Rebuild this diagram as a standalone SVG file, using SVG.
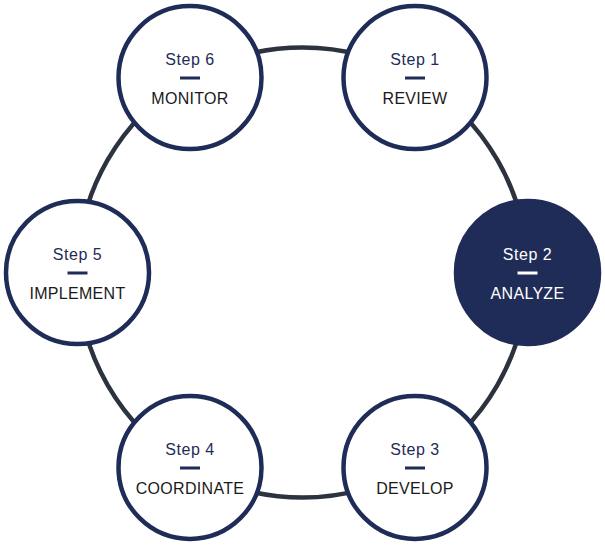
<svg xmlns="http://www.w3.org/2000/svg" width="605" height="545" viewBox="0 0 605 545">
<style>
.conn{fill:none;stroke:#2c333e;stroke-width:4.5}
.node{fill:#fff;stroke:#1f2c57;stroke-width:4.5}
.node.active{fill:#1f2c57}
.step{font-family:"Liberation Sans",Arial,sans-serif;font-size:16px;letter-spacing:0.5px;fill:#1f2c57;text-anchor:middle}
.lbl{font-family:"Liberation Sans",Arial,sans-serif;font-size:16px;letter-spacing:0.3px;fill:#1a1a1a;text-anchor:middle}
.dash{fill:#1f2c57}
.active-t{fill:#fff}
</style>
<rect width="605" height="545" fill="#fff"/>
<g id="connectors">
<path class="conn" d="M190 77.6 A225 225 0 0 1 415 77.6"/>
<path class="conn" d="M415 77.6 A225 225 0 0 1 527.5 272.5"/>
<path class="conn" d="M527.5 272.5 A225 225 0 0 1 415 467.4"/>
<path class="conn" d="M415 467.4 A225 225 0 0 1 190 467.4"/>
<path class="conn" d="M190 467.4 A225 225 0 0 1 77.5 272.5"/>
<path class="conn" d="M77.5 272.5 A225 225 0 0 1 190 77.6"/>
</g>
<g id="step1">
<circle class="node" cx="415" cy="77.6" r="71.5"/>
<text class="step" x="415" y="65">Step 1</text>
<rect class="dash" x="405" y="76.5" width="20" height="3"/>
<text class="lbl" x="415" y="104">REVIEW</text>
</g>
<g id="step2">
<circle class="node active" cx="527.5" cy="272.5" r="71.5"/>
<text class="step active-t" x="527.5" y="260">Step 2</text>
<rect class="dash active-t" x="517.5" y="271.5" width="20" height="3"/>
<text class="lbl active-t" x="527.5" y="299">ANALYZE</text>
</g>
<g id="step3">
<circle class="node" cx="415" cy="467.4" r="71.5"/>
<text class="step" x="415" y="455">Step 3</text>
<rect class="dash" x="405" y="466.5" width="20" height="3"/>
<text class="lbl" x="415" y="494">DEVELOP</text>
</g>
<g id="step4">
<circle class="node" cx="190" cy="467.4" r="71.5"/>
<text class="step" x="190" y="455">Step 4</text>
<rect class="dash" x="180" y="466.5" width="20" height="3"/>
<text class="lbl" x="190" y="494">COORDINATE</text>
</g>
<g id="step5">
<circle class="node" cx="77.5" cy="272.5" r="71.5"/>
<text class="step" x="77.5" y="260">Step 5</text>
<rect class="dash" x="67.5" y="271.5" width="20" height="3"/>
<text class="lbl" x="77.5" y="299">IMPLEMENT</text>
</g>
<g id="step6">
<circle class="node" cx="190" cy="77.6" r="71.5"/>
<text class="step" x="190" y="65">Step 6</text>
<rect class="dash" x="180" y="76.5" width="20" height="3"/>
<text class="lbl" x="190" y="104">MONITOR</text>
</g>
</svg>
